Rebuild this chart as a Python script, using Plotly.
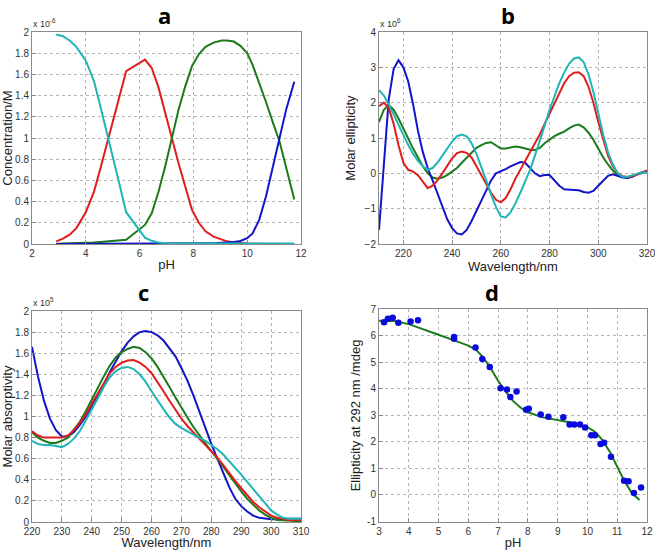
import plotly.graph_objects as go

# ---------------- Panel a: species concentration vs pH (x 1e-6 M) ----------------
ph_a = [2.9, 3.15, 3.4, 3.65, 4.0, 4.3, 4.55, 4.8, 5.15, 5.5, 6.2, 6.45, 6.7, 6.95, 7.2,
        7.45, 7.7, 7.95, 8.2, 8.45, 8.75, 9.05, 9.25, 9.5, 9.75, 10.0, 10.2, 10.45, 10.7,
        10.95, 11.2, 11.45, 11.75]
a_cyan = [1.977, 1.96, 1.92, 1.86, 1.73, 1.54, 1.29, 1.04, 0.67, 0.30, 0.06, 0.03, 0.015,
          0.008, 0.005, 0.004, 0.004, 0.004, 0.004, 0.004, 0.004, 0.004, 0.004, 0.004, 0.004,
          0.004, 0.004, 0.004, 0.004, 0.004, 0.004, 0.004, 0.004]
a_red = [0.025, 0.05, 0.088, 0.15, 0.30, 0.49, 0.72, 0.96, 1.30, 1.63, 1.74, 1.66, 1.48,
         1.25, 1.0, 0.76, 0.53, 0.32, 0.20, 0.12, 0.07, 0.04, 0.025, 0.015, 0.008, 0.005,
         0.003, 0.002, 0.001, 0.001, 0.0, 0.0, 0.0]
a_green = [0.003, 0.004, 0.005, 0.007, 0.01, 0.014, 0.02, 0.025, 0.032, 0.04, 0.18, 0.29,
           0.49, 0.73, 1.0, 1.27, 1.49, 1.68, 1.79, 1.86, 1.90, 1.92, 1.92, 1.91, 1.87, 1.80,
           1.69, 1.52, 1.34, 1.15, 0.97, 0.72, 0.42]
a_blue = [0.0, 0.0, 0.0, 0.0, 0.0, 0.0, 0.001, 0.001, 0.001, 0.001, 0.002, 0.002, 0.003,
          0.003, 0.004, 0.004, 0.005, 0.005, 0.006, 0.007, 0.008, 0.010, 0.013, 0.018, 0.028,
          0.055, 0.10, 0.23, 0.45, 0.73, 1.0, 1.27, 1.53]

# ---------------- Panel b: CD spectra (x 1e6) ----------------
wl_b = list(range(210, 321, 2))
b_blue = [-1.6, 0.4, 2.1, 2.95, 3.2, 3.0, 2.6, 1.95, 1.2, 0.6, 0.15, -0.2, -0.55, -0.95,
          -1.3, -1.55, -1.7, -1.73, -1.6, -1.35, -1.05, -0.8, -0.5, -0.2, 0.0, 0.05, 0.12,
          0.2, 0.27, 0.32, 0.3, 0.15, 0.0, -0.08, -0.05, -0.05, -0.2, -0.35, -0.45, -0.47,
          -0.47, -0.48, -0.53, -0.55, -0.5, -0.35, -0.2, -0.07, -0.03, -0.08, -0.12, -0.13,
          -0.1, -0.02, 0.03, 0.05]
b_red = [1.9, 2.0, 1.85, 1.4, 0.8, 0.3, 0.1, 0.05, -0.05, -0.25, -0.42, -0.35, -0.2, 0.0,
         0.2, 0.42, 0.57, 0.62, 0.58, 0.45, 0.2, -0.05, -0.3, -0.55, -0.75, -0.82, -0.7,
         -0.45, -0.15, 0.1, 0.35, 0.6, 0.85, 1.1, 1.4, 1.7, 2.0, 2.3, 2.55, 2.75, 2.85,
         2.86, 2.75, 2.45, 2.0, 1.45, 0.95, 0.5, 0.2, 0.0, -0.08, -0.1, -0.08, -0.03, 0.02,
         0.08]
b_cyan = [2.35, 2.2, 1.95, 1.65, 1.35, 1.05, 0.8, 0.55, 0.35, 0.2, 0.1, 0.15, 0.3, 0.5,
          0.7, 0.9, 1.05, 1.1, 1.05, 0.85, 0.55, 0.2, -0.2, -0.6, -0.95, -1.22, -1.25,
          -1.1, -0.85, -0.55, -0.25, 0.1, 0.5, 0.9, 1.35, 1.8, 2.2, 2.55, 2.85, 3.1, 3.25,
          3.28, 3.15, 2.8, 2.3, 1.7, 1.1, 0.6, 0.25, 0.0, -0.1, -0.1, -0.05, 0.0, 0.03, 0.02]
b_green = [1.45, 1.8, 1.93, 1.8, 1.55, 1.25, 0.95, 0.7, 0.45, 0.2, 0.0, -0.12, -0.15,
           -0.12, -0.05, 0.05, 0.15, 0.3, 0.45, 0.6, 0.72, 0.8, 0.86, 0.88, 0.8, 0.7, 0.7,
           0.74, 0.76, 0.74, 0.7, 0.67, 0.66, 0.72, 0.85, 0.95, 1.05, 1.12, 1.18, 1.27, 1.35,
           1.38, 1.3, 1.15, 0.95, 0.7, 0.45, 0.25, 0.08, -0.05, -0.1, -0.12, -0.08, -0.02,
           0.02, 0.05]

# ---------------- Panel c: absorption spectra (x 1e5) ----------------
wl_c = list(range(220, 311, 2))
c_blue = [1.66, 1.38, 1.15, 0.98, 0.87, 0.81, 0.81, 0.85, 0.92, 1.0, 1.1, 1.2, 1.3, 1.42,
          1.52, 1.62, 1.70, 1.76, 1.80, 1.81, 1.80, 1.77, 1.72, 1.65, 1.57, 1.46, 1.34,
          1.20, 1.04, 0.88, 0.74, 0.60, 0.46, 0.33, 0.22, 0.15, 0.10, 0.06, 0.04, 0.03,
          0.025, 0.025, 0.03, 0.03, 0.03, 0.03]
c_green = [0.85, 0.80, 0.77, 0.75, 0.75, 0.77, 0.80, 0.87, 0.95, 1.05, 1.16, 1.28, 1.38,
           1.48, 1.56, 1.61, 1.64, 1.66, 1.65, 1.61, 1.55, 1.47, 1.38, 1.28, 1.18, 1.08,
           0.99, 0.90, 0.82, 0.74, 0.67, 0.60, 0.52, 0.44, 0.36, 0.29, 0.22, 0.16, 0.11,
           0.07, 0.04, 0.02, 0.015, 0.01, 0.01, 0.01]
c_red = [0.86, 0.82, 0.80, 0.80, 0.80, 0.80, 0.82, 0.87, 0.94, 1.02, 1.12, 1.22, 1.32,
         1.41, 1.47, 1.51, 1.53, 1.535, 1.51, 1.47, 1.41, 1.33, 1.24, 1.15, 1.06, 0.98,
         0.91, 0.85, 0.80, 0.74, 0.68, 0.61, 0.54, 0.46, 0.39, 0.32, 0.25, 0.19, 0.14, 0.10,
         0.06, 0.04, 0.03, 0.02, 0.02, 0.02]
c_cyan = [0.77, 0.74, 0.73, 0.73, 0.72, 0.71, 0.74, 0.79, 0.86, 0.96, 1.06, 1.17, 1.28,
          1.37, 1.43, 1.46, 1.47, 1.45, 1.40, 1.33, 1.24, 1.15, 1.07, 0.99, 0.93, 0.89, 0.86,
          0.83, 0.80, 0.77, 0.73, 0.69, 0.64, 0.58, 0.52, 0.45, 0.38, 0.31, 0.24, 0.17, 0.11,
          0.07, 0.04, 0.03, 0.03, 0.03]

# ---------------- Panel d: ellipticity at 292 nm vs pH ----------------
ph_d = [3.17, 3.30, 3.46, 3.65, 4.06, 4.31, 5.52, 5.52, 6.24, 6.47, 6.72, 7.08, 7.30, 7.41,
        7.62, 7.94, 8.03, 8.43, 8.69, 9.19, 9.40, 9.56, 9.75, 9.92, 10.13, 10.25, 10.44,
        10.56, 10.79, 11.23, 11.38, 11.56, 11.80]
ell_d = [6.50, 6.63, 6.67, 6.48, 6.53, 6.58, 5.95, 5.88, 5.55, 5.12, 4.82, 4.02, 3.97, 3.69,
         3.89, 3.21, 3.24, 3.03, 2.94, 2.92, 2.65, 2.65, 2.65, 2.54, 2.25, 2.25, 1.92, 1.96,
         1.44, 0.53, 0.51, 0.07, 0.28]
ph_fit = [3.0, 3.5, 4.0, 4.5, 5.0, 5.5, 6.0, 6.25, 6.5, 6.75, 7.0, 7.25, 7.5, 7.75, 8.0,
          8.5, 9.0, 9.5, 10.0, 10.25, 10.5, 10.75, 11.0, 11.25, 11.5, 11.75]
ell_fit = [6.56, 6.55, 6.43, 6.22, 6.03, 5.83, 5.62, 5.47, 5.18, 4.77, 4.30, 3.90, 3.54,
           3.29, 3.11, 2.92, 2.82, 2.72, 2.55, 2.38, 2.07, 1.63, 1.06, 0.50, 0.06, -0.19]
d_yticks = [-1, 0, 1, 2, 3, 4, 5, 6, 7]

BLUE = "#1414c8"
RED = "#e01e1e"
CYAN = "#1fb5b5"
GREEN = "#1b7a1b"
FONT = "Liberation Sans, Arial, sans-serif"

fig = go.Figure()

def add_line(x, y, color, ax):
    fig.add_trace(go.Scatter(x=x, y=y, mode="lines", line=dict(color=color, width=2),
                             xaxis="x" + ax, yaxis="y" + ax, showlegend=False,
                             hoverinfo="skip"))

# panel a
add_line(ph_a, a_red, RED, "")
add_line(ph_a, a_green, GREEN, "")
add_line(ph_a, a_blue, BLUE, "")
add_line(ph_a, a_cyan, CYAN, "")
# panel b
add_line(wl_b, b_green, GREEN, "2")
add_line(wl_b, b_blue, BLUE, "2")
add_line(wl_b, b_red, RED, "2")
add_line(wl_b, b_cyan, CYAN, "2")
# panel c
add_line(wl_c, c_blue, BLUE, "3")
add_line(wl_c, c_green, GREEN, "3")
add_line(wl_c, c_red, RED, "3")
add_line(wl_c, c_cyan, CYAN, "3")
# panel d
add_line(ph_fit, ell_fit, GREEN, "4")
fig.add_trace(go.Scatter(x=ph_d, y=ell_d, mode="markers",
                         marker=dict(color="#0a0adc", size=6.5),
                         xaxis="x4", yaxis="y4", showlegend=False))

W, H = 655, 550

def px_x(p):
    return p / W

def px_y(p):
    return 1 - p / H

def axis(domain, rng, dtick, title, anchor, standoff):
    return dict(domain=domain, range=rng, dtick=dtick, tick0=0, anchor=anchor,
                showline=True, mirror=True, linecolor="#8a8a8a", linewidth=1,
                ticks="inside", ticklen=4, tickcolor="#8a8a8a",
                showgrid=True, gridcolor="#b4b4b4", griddash="dot", gridwidth=1,
                zeroline=False, tickfont=dict(size=10, color="#333333", family=FONT),
                ticklabeloverflow="allow",
                title=dict(text=title, font=dict(size=13, color="#222222", family=FONT),
                           standoff=standoff),
                automargin=False)

xa = [px_x(32), px_x(301)]
xb = [px_x(379), px_x(647)]
ya = [px_y(244), px_y(32)]
yc = [px_y(522), px_y(311)]
yd = [px_y(522), px_y(309)]

yax4 = axis(yd, [-1.02, 7], 1, "Ellipticity at 292 nm /mdeg", "x4", 3)
yax4.update(tickmode="array", tickvals=d_yticks, ticktext=[str(v) for v in d_yticks])
yax4.pop("ticklabeloverflow")

fig.update_layout(
    width=W, height=H,
    margin=dict(l=0, r=0, t=0, b=0),
    paper_bgcolor="white", plot_bgcolor="white",
    font=dict(family=FONT),
    xaxis=axis(xa, [2, 12], 2, "pH", "y", 1),
    yaxis=axis(ya, [0, 2], 0.2, "Concentration/M", "x", 4),
    xaxis2=axis(xb, [210, 320], 20, "Wavelength/nm", "y2", 1),
    yaxis2=axis(ya, [-2, 4], 1, "Molar ellipticity", "x2", 6),
    xaxis3=axis(xa, [220, 310], 10, "Wavelength/nm", "y3", 0),
    yaxis3=axis(yc, [0, 2], 0.2, "Molar absorptivity", "x3", 4),
    xaxis4=axis(xb, [3, 12], 1, "pH", "y4", 1),
    yaxis4=yax4,
)

ann = []
for txt, cx, cy in [("a", 164, 15), ("b", 508, 15), ("c", 143, 292), ("d", 492, 292)]:
    ann.append(dict(text="<b>" + txt + "</b>", x=px_x(cx), y=px_y(cy), xref="paper",
                    yref="paper", xanchor="center", yanchor="middle", showarrow=False,
                    font=dict(size=22, color="black", family="Open Sans, sans-serif")))
for txt, lx, by in [("x 10<sup>-6</sup>", 31, 31), ("x 10<sup>6</sup>", 378, 31),
                    ("x 10<sup>5</sup>", 31, 310)]:
    ann.append(dict(text=txt, x=px_x(lx), y=px_y(by), xref="paper", yref="paper",
                    xanchor="left", yanchor="bottom", showarrow=False,
                    font=dict(size=9, color="#333333", family=FONT)))
fig.update_layout(annotations=ann)

fig.write_html("out.html", config={"displayModeBar": False},
               post_script="document.body.style.margin='0';document.body.style.overflow='hidden';")
